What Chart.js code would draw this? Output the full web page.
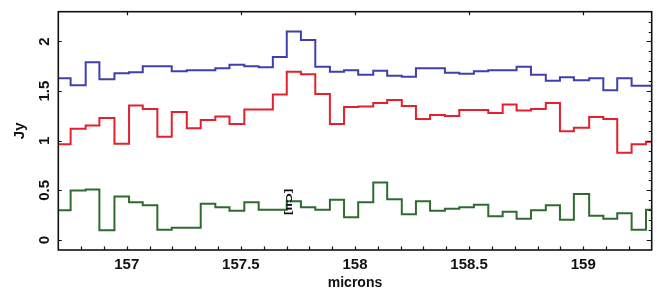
<!DOCTYPE html>
<html>
<head>
<meta charset="utf-8">
<script src="https://cdn.jsdelivr.net/npm/chart.js@4.4.1/dist/chart.umd.min.js"></script>
<style>
  html, body { margin: 0; padding: 0; background: #fff; }
  #wrap { width: 657px; height: 289px; position: relative; }
</style>
</head>
<body>
<div id="wrap"><canvas id="spectrum"></canvas></div>
<script>
// bin edges (microns)
const binEdges = [
    156.700, 156.754, 156.820, 156.880, 156.946, 157.010, 157.070, 157.134, 157.197, 157.263,
    157.324, 157.388, 157.450, 157.515, 157.578, 157.640, 157.701, 157.763, 157.826, 157.890,
    157.952, 158.014, 158.080, 158.141, 158.205, 158.267, 158.329, 158.394, 158.457, 158.521,
    158.584, 158.647, 158.708, 158.771, 158.836, 158.898, 158.959, 159.026, 159.088, 159.149,
    159.212, 159.275, 159.300
];

// flux per bin (Jy)
const blueFlux = [
    1.63, 1.56, 1.79, 1.62, 1.68, 1.69, 1.75, 1.75, 1.70, 1.71,
    1.71, 1.73, 1.765, 1.75, 1.74, 1.845, 2.10, 2.015, 1.745, 1.695,
    1.71, 1.665, 1.705, 1.655, 1.645, 1.73, 1.73, 1.685, 1.675, 1.70,
    1.71, 1.71, 1.745, 1.665, 1.605, 1.64, 1.61, 1.63, 1.51, 1.63,
    1.555, 1.555
];
const redFlux = [
    0.965, 1.12, 1.155, 1.23, 0.97, 1.355, 1.32, 1.04, 1.29, 1.125,
    1.21, 1.245, 1.17, 1.315, 1.315, 1.465, 1.695, 1.67, 1.47, 1.17,
    1.34, 1.345, 1.38, 1.41, 1.35, 1.22, 1.26, 1.25, 1.31, 1.31,
    1.28, 1.365, 1.305, 1.32, 1.38, 1.095, 1.13, 1.24, 1.22, 0.88,
    0.965, 0.99
];
const greenFlux = [
    0.30, 0.50, 0.51, 0.10, 0.44, 0.38, 0.35, 0.105, 0.125, 0.125,
    0.365, 0.33, 0.295, 0.38, 0.305, 0.305, 0.39, 0.33, 0.305, 0.405,
    0.23, 0.38, 0.58, 0.41, 0.26, 0.39, 0.295, 0.315, 0.33, 0.355,
    0.24, 0.285, 0.215, 0.30, 0.35, 0.205, 0.465, 0.245, 0.215, 0.27,
    0.105, 0.305
];

const xTicks = [157, 157.5, 158, 158.5, 159];
const yTicks = [0, 0.5, 1, 1.5, 2];

const lineLabel = { text: '[CII]', x: 157.7065, y: 0.385 };

// step histogram: each value holds from its left edge to the next edge
function toSteps(values) {
    const pts = values.map((v, i) => ({ x: binEdges[i], y: v }));
    pts.push({ x: binEdges[values.length], y: values[values.length - 1] });
    return pts;
}

function fixSize(w, h) {
    return scale => {
        if (w !== null) scale.width = w;
        if (h !== null) scale.height = h;
    };
}

const FAMILY = '"Liberation Sans", Arial, sans-serif';
const TICK_FONT = { family: FAMILY, size: 15, weight: 'bold' };
const TITLE_FONT = { family: FAMILY, size: 14, weight: 'bold', lineHeight: 0.8 };

/**
 * Frame, inward tick marks, rotated y labels and the line marker
 */
const framePlugin = {
    id: 'framePlugin',
    afterDraw(chart) {
        const { ctx, chartArea: a } = chart;
        const x = chart.scales.x, y = chart.scales.y;
        ctx.save();

        ctx.strokeStyle = '#111';
        ctx.lineWidth = 1.2;
        ctx.beginPath();
        // bottom: every 0.1
        for (let v = 156.8; v < 159.25; v += 0.1) {
            const px = Math.round(x.getPixelForValue(v)) + 0.5;
            ctx.moveTo(px, a.bottom); ctx.lineTo(px, a.bottom - 3.5);
        }
        // top: majors only
        xTicks.forEach(v => {
            const px = Math.round(x.getPixelForValue(v)) + 0.5;
            ctx.moveTo(px, a.top); ctx.lineTo(px, a.top + 3.5);
        });
        // left: majors only
        yTicks.forEach(v => {
            const py = Math.round(y.getPixelForValue(v)) + 0.5;
            ctx.moveTo(a.left, py); ctx.lineTo(a.left + 3.5, py);
        });
        // right: every 0.1, majors longer
        for (let v = 0; v < 2.25; v += 0.1) {
            const py = Math.round(y.getPixelForValue(v)) + 0.5;
            const major = Math.abs(v * 2 - Math.round(v * 2)) < 1e-6;
            ctx.moveTo(a.right, py); ctx.lineTo(a.right - (major ? 5 : 3), py);
        }
        ctx.stroke();

        ctx.lineWidth = 1.6;
        ctx.strokeRect(a.left, a.top, a.right - a.left, a.bottom - a.top);

        // y tick labels, rotated like the axis title
        ctx.fillStyle = '#111';
        ctx.font = 'bold 15px ' + FAMILY;
        ctx.textAlign = 'center';
        ctx.textBaseline = 'middle';
        yTicks.forEach(v => {
            ctx.save();
            ctx.translate(45, y.getPixelForValue(v));
            ctx.rotate(-Math.PI / 2);
            ctx.fillText(String(v), 0, 0);
            ctx.restore();
        });

        // line marker, stretched along its length like the original
        ctx.save();
        ctx.font = 'bold 9px ' + FAMILY;
        ctx.translate(x.getPixelForValue(lineLabel.x), y.getPixelForValue(lineLabel.y));
        ctx.rotate(Math.PI / 2);
        ctx.scale(1.5, 1);
        ctx.fillText(lineLabel.text, 0, 0);
        ctx.restore();

        ctx.restore();
    }
};

function series(values, color) {
    return {
        data: toSteps(values),
        borderColor: color,
        borderWidth: 2,
        stepped: 'before',
        pointRadius: 0,
        fill: false
    };
}

new Chart(document.getElementById('spectrum'), {
    type: 'line',
    data: {
        datasets: [
            series(blueFlux, '#3f3fae'),
            series(redFlux, '#e3202b'),
            series(greenFlux, '#2f6b2f')
        ]
    },
    options: {
        responsive: true,
        maintainAspectRatio: false,
        animation: false,
        layout: { padding: 0 },
        plugins: { legend: { display: false }, tooltip: { enabled: false } },
        scales: {
            x: {
                type: 'linear',
                position: 'bottom',
                min: 156.7,
                max: 159.3,
                afterBuildTicks: s => { s.ticks = xTicks.map(v => ({ value: v })); },
                afterFit: fixSize(null, 39),
                grid: { display: false, drawTicks: false },
                border: { display: false },
                ticks: {
                    color: '#111',
                    font: TICK_FONT,
                    padding: 6,
                    maxRotation: 0,
                    callback: v => String(v)
                },
                title: {
                    display: true,
                    text: 'microns',
                    color: '#111',
                    font: TITLE_FONT,
                    padding: { top: 0, bottom: 0 }
                }
            },
            xTop: {
                type: 'linear',
                position: 'top',
                min: 156.7,
                max: 159.3,
                afterFit: fixSize(null, 11.7),
                grid: { display: false, drawTicks: false },
                border: { display: false },
                ticks: { display: false }
            },
            y: {
                type: 'linear',
                position: 'left',
                min: -0.1,
                max: 2.3,
                afterBuildTicks: s => { s.ticks = yTicks.map(v => ({ value: v })); },
                afterFit: fixSize(58.3, null),
                grid: { display: false, drawTicks: false },
                border: { display: false },
                ticks: { display: false },
                title: {
                    display: true,
                    text: 'Jy',
                    color: '#111',
                    font: { family: FAMILY, size: 15, weight: 'bold' },
                    padding: { top: 11, bottom: 0 }
                }
            },
            yRight: {
                type: 'linear',
                position: 'right',
                min: -0.1,
                max: 2.3,
                afterFit: fixSize(5.3, null),
                grid: { display: false, drawTicks: false },
                border: { display: false },
                ticks: { display: false }
            }
        }
    },
    plugins: [framePlugin]
});
</script>
</body>
</html>
